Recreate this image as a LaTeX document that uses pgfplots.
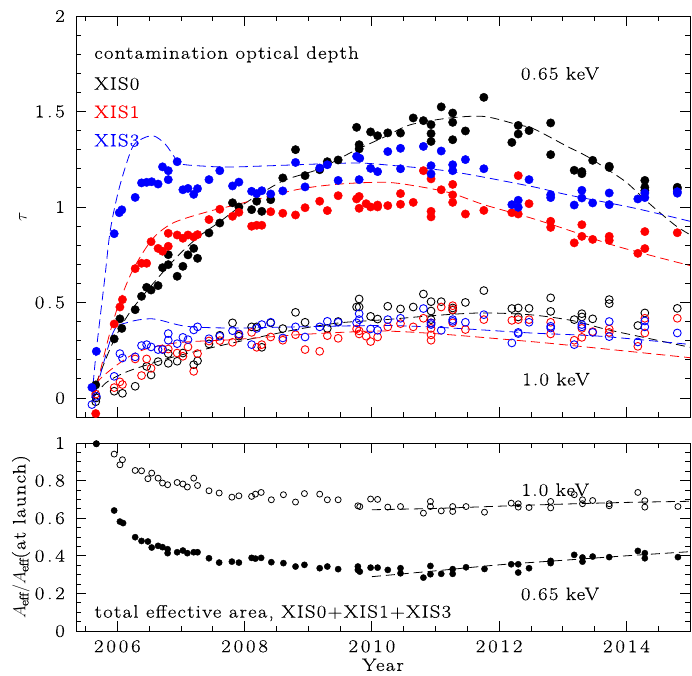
\documentclass[border=0pt]{standalone}
\usepackage{fontspec}
\setmainfont{Latin Modern Roman}[LetterSpace=7, FakeStretch=1.15, FakeBold=0.4]
\usepackage{pgfplots}
\pgfplotsset{compat=1.18}
\definecolor{myred}{RGB}{255,0,0}
\definecolor{myblue}{RGB}{0,0,255}
\newcommand{\bigf}{\fontsize{18}{21}\selectfont}
\newcommand{\tickf}{\fontsize{18}{21}\selectfont\addfontfeatures{LetterSpace=16}}
\pgfplotsset{
  myax/.style={scale only axis, width=614pt, xmin=2005.35, xmax=2015,
    xtick={2006,2008,2010,2012,2014}, minor xtick={2005.5,2006,...,2015},
    tick align=inside, major tick length=10pt, minor tick length=5pt,
    axis line style={line width=0.9pt}, every tick/.style={line width=0.8pt, black},
    /pgf/number format/assume math mode=true, /pgf/number format/1000 sep={},
    tick label style={font=\tickf}, label style={font=\bigf},
    xticklabel style={yshift=-3pt}, yticklabel style={xshift=-5pt},
    every axis y label/.style={at={(axis description cs:-0.0863,0.5)}, rotate=90, anchor=center},
  },
  fil/.style={only marks, mark=*, mark size=4.2pt},
  opn/.style={only marks, mark=o, mark size=3.9pt, mark options={line width=0.9pt}},
  mdl/.style={no marks, smooth, tension=0.5, line width=0.8pt, dash pattern=on 9pt off 5pt},
}
\pgfplotstableread{
x y
2005.60 0.055
2005.67 0.244
2005.95 0.86
2006.03 0.97
2006.07 0.985
2006.28 1.05
2006.38 1.126
2006.46 1.129
2006.54 1.132
2006.64 1.12
2006.71 1.21
2006.80 1.19
2006.80 1.143
2006.94 1.237
2007.03 1.09
2007.11 1.097
2007.20 1.066
2007.26 1.096
2007.44 1.143
2007.61 1.19
2007.81 1.11
2007.91 1.13
2008.11 1.082
2008.19 1.07
2008.27 1.085
2008.41 1.068
2008.60 1.084
2008.80 1.233
2008.95 1.105
2009.18 1.204
2009.30 1.221
2009.47 1.139
2009.76 1.265
2009.81 1.255
2009.80 1.143
2009.98 1.202
2010.09 1.185
2010.25 1.29
2010.45 1.307
2010.45 1.2
2010.81 1.317
2010.93 1.216
2010.93 1.173
2011.09 1.293
2011.27 1.221
2011.27 1.19
2011.47 1.248
2011.76 1.2
2012.20 1.012
2012.30 1.035
2012.30 0.998
2012.47 1.143
2012.81 1.064
2012.81 1.049
2013.18 1.01
2013.30 1.087
2013.30 1.047
2013.47 1.021
2013.73 1.073
2013.73 1.012
2014.18 1.042
2014.29 1.073
2014.29 1.049
2014.80 1.08
2014.80 1.072
}\bluefil
\pgfplotstableread{
x y
2005.66 0.068
2005.95 0.309
2006.04 0.414
2006.07 0.364
2006.28 0.462
2006.38 0.532
2006.46 0.579
2006.53 0.565
2006.64 0.588
2006.71 0.682
2006.80 0.698
2006.80 0.75
2006.94 0.637
2007.03 0.689
2007.11 0.749
2007.20 0.783
2007.26 0.731
2007.44 0.864
2007.61 0.916
2007.81 1.022
2007.91 1.0
2008.11 0.986
2008.19 1.03
2008.27 0.977
2008.41 1.038
2008.60 1.152
2008.80 1.3
2008.95 1.164
2009.18 1.195
2009.30 1.237
2009.47 1.246
2009.76 1.417
2009.80 1.326
2009.80 1.304
2009.98 1.393
2010.09 1.373
2010.25 1.388
2010.45 1.387
2010.65 1.466
2010.81 1.452
2010.93 1.431
2010.93 1.384
2010.93 1.343
2011.09 1.524
2011.27 1.492
2011.27 1.443
2011.27 1.352
2011.47 1.398
2011.76 1.574
2012.20 1.338
2012.30 1.427
2012.30 1.382
2012.47 1.4
2012.81 1.44
2012.81 1.274
2013.18 1.192
2013.30 1.185
2013.30 1.174
2013.47 1.244
2013.73 1.213
2013.73 1.207
2014.29 1.139
2014.29 1.103
2014.29 1.085
2014.80 1.103
2014.80 1.095
}\blackfil
\pgfplotstableread{
x y
2005.66 -0.082
2005.95 0.387
2006.04 0.476
2006.08 0.515
2006.28 0.677
2006.38 0.705
2006.46 0.705
2006.53 0.818
2006.64 0.783
2006.71 0.768
2006.80 0.794
2006.80 0.862
2006.94 0.853
2007.03 0.836
2007.11 0.853
2007.20 0.843
2007.26 0.855
2007.44 0.934
2007.61 0.988
2007.81 0.951
2007.91 0.972
2008.11 0.899
2008.19 0.904
2008.27 0.904
2008.41 0.975
2008.60 0.967
2008.80 0.958
2008.95 0.996
2009.18 1.03
2009.30 0.981
2009.47 1.059
2009.76 1.042
2009.80 1.055
2009.80 0.993
2009.91 1.017
2009.98 1.0
2010.09 1.0
2010.09 1.01
2010.25 1.007
2010.45 1.07
2010.45 1.014
2010.65 1.024
2010.81 1.19
2010.93 1.147
2010.93 0.977
2010.93 0.948
2011.09 1.09
2011.27 1.118
2011.27 1.063
2011.27 1.024
2011.47 0.963
2011.76 0.982
2012.20 0.97
2012.30 0.963
2012.30 1.164
2012.47 1.017
2012.81 0.925
2012.81 0.893
2013.18 0.812
2013.30 0.907
2013.30 0.846
2013.47 0.83
2013.73 0.846
2013.73 0.825
2014.18 0.757
2014.29 0.871
2014.29 0.782
2014.80 0.865
}\redfil
\pgfplotstableread{
x y
2005.66 -0.02
2005.67 0.0
2005.95 0.035
2006.08 0.024
2006.28 0.061
2006.46 0.165
2006.53 0.12
2006.64 0.19
2006.80 0.181
2006.80 0.232
2006.94 0.192
2007.03 0.235
2007.20 0.174
2007.26 0.194
2007.44 0.283
2007.61 0.328
2007.81 0.393
2007.91 0.323
2008.11 0.372
2008.19 0.372
2008.27 0.265
2008.41 0.393
2008.60 0.363
2008.80 0.448
2008.95 0.396
2009.30 0.364
2009.47 0.4
2009.80 0.518
2009.76 0.476
2009.80 0.476
2009.98 0.427
2010.09 0.413
2010.25 0.48
2010.45 0.466
2010.65 0.476
2010.81 0.544
2010.93 0.504
2010.93 0.455
2010.93 0.41
2011.09 0.504
2011.27 0.471
2011.27 0.459
2011.47 0.5
2011.76 0.562
2012.20 0.468
2012.30 0.471
2012.30 0.424
2012.47 0.469
2012.81 0.524
2012.81 0.453
2013.18 0.41
2013.30 0.441
2013.30 0.424
2013.47 0.414
2013.73 0.515
2013.73 0.494
2014.18 0.379
2014.29 0.445
2014.80 0.469
}\blackopn
\pgfplotstableread{
x y
2005.66 0.02
2005.95 0.054
2006.04 0.084
2006.08 0.07
2006.28 0.204
2006.38 0.117
2006.46 0.204
2006.53 0.155
2006.71 0.256
2006.80 0.256
2006.94 0.235
2007.03 0.218
2007.11 0.267
2007.20 0.139
2007.26 0.232
2007.44 0.298
2007.61 0.3
2007.81 0.291
2007.91 0.331
2008.11 0.343
2008.19 0.265
2008.27 0.279
2008.41 0.319
2008.60 0.302
2008.80 0.331
2008.95 0.253
2009.18 0.244
2009.30 0.326
2009.47 0.312
2009.76 0.361
2009.80 0.335
2009.80 0.351
2009.91 0.323
2009.98 0.295
2010.09 0.319
2010.25 0.372
2010.45 0.389
2010.65 0.372
2010.81 0.417
2010.93 0.393
2010.93 0.364
2010.93 0.33
2010.93 0.302
2011.09 0.476
2011.27 0.483
2011.27 0.462
2011.27 0.393
2011.47 0.358
2011.76 0.41
2012.20 0.406
2012.30 0.41
2012.47 0.41
2012.81 0.396
2012.81 0.335
2013.18 0.302
2013.30 0.364
2013.30 0.317
2013.47 0.347
2013.73 0.361
2013.73 0.343
2014.18 0.27
2014.29 0.417
2014.29 0.34
2014.80 0.417
}\redopn
\pgfplotstableread{
x y
2005.60 -0.035
2005.67 0.008
2005.95 0.113
2006.04 0.232
2006.08 0.209
2006.28 0.215
2006.38 0.274
2006.46 0.279
2006.53 0.267
2006.64 0.253
2006.71 0.253
2006.80 0.337
2006.80 0.302
2006.94 0.284
2007.03 0.317
2007.11 0.305
2007.20 0.356
2007.26 0.372
2007.44 0.31
2007.61 0.323
2007.81 0.352
2007.91 0.335
2008.11 0.279
2008.19 0.364
2008.27 0.384
2008.41 0.396
2008.60 0.314
2008.80 0.372
2008.95 0.319
2009.18 0.372
2009.30 0.401
2009.47 0.396
2009.76 0.393
2009.80 0.441
2009.80 0.41
2009.98 0.361
2010.09 0.354
2010.25 0.41
2010.45 0.417
2010.81 0.468
2010.93 0.393
2010.93 0.384
2011.09 0.354
2011.27 0.41
2011.27 0.401
2011.47 0.396
2011.76 0.436
2012.20 0.288
2012.30 0.343
2012.30 0.337
2012.47 0.396
2012.81 0.375
2012.81 0.366
2013.18 0.279
2013.30 0.384
2013.30 0.372
2013.47 0.343
2013.73 0.4
2013.73 0.321
2014.18 0.293
2014.29 0.403
2014.29 0.372
2014.80 0.34
}\blueopn
\pgfplotstableread{
x y
2005.67 0.996
2005.95 0.941
2006.04 0.884
2006.08 0.911
2006.28 0.854
2006.38 0.852
2006.48 0.81
2006.54 0.84
2006.64 0.813
2006.71 0.787
2006.79 0.778
2006.94 0.79
2007.03 0.782
2007.10 0.766
2007.20 0.813
2007.26 0.774
2007.44 0.746
2007.60 0.734
2007.80 0.712
2007.91 0.719
2008.11 0.716
2008.17 0.728
2008.26 0.737
2008.42 0.698
2008.61 0.725
2008.80 0.686
2008.94 0.731
2009.18 0.728
2009.30 0.698
2009.47 0.698
2009.78 0.666
2009.81 0.662
2009.98 0.702
2010.09 0.70
2010.25 0.659
2010.45 0.662
2010.81 0.627
2010.92 0.689
2010.92 0.662
2011.09 0.639
2011.27 0.662
2011.27 0.636
2011.48 0.662
2011.77 0.632
2012.19 0.68
2012.30 0.677
2012.30 0.659
2012.47 0.657
2012.81 0.689
2012.81 0.655
2013.18 0.725
2013.31 0.698
2013.31 0.677
2013.47 0.694
2013.73 0.677
2013.73 0.666
2014.18 0.737
2014.29 0.693
2014.29 0.659
2014.81 0.662
}\areaopn
\pgfplotstableread{
x y
2005.67 0.996
2005.95 0.641
2006.04 0.582
2006.09 0.574
2006.28 0.499
2006.38 0.479
2006.48 0.476
2006.54 0.444
2006.64 0.453
2006.71 0.446
2006.79 0.435
2006.79 0.414
2006.94 0.419
2007.03 0.428
2007.10 0.414
2007.20 0.419
2007.26 0.419
2007.44 0.387
2007.60 0.364
2007.80 0.369
2007.91 0.364
2008.11 0.389
2008.17 0.385
2008.26 0.389
2008.42 0.366
2008.61 0.361
2008.80 0.343
2008.94 0.352
2009.18 0.334
2009.30 0.343
2009.47 0.329
2009.78 0.343
2009.81 0.316
2009.78 0.325
2009.98 0.337
2010.09 0.337
2010.25 0.325
2010.45 0.334
2010.45 0.307
2010.81 0.284
2010.92 0.346
2010.92 0.302
2011.09 0.304
2011.27 0.329
2011.27 0.304
2011.48 0.339
2011.77 0.33
2012.19 0.355
2012.30 0.355
2012.30 0.311
2012.47 0.334
2012.81 0.373
2012.81 0.361
2013.18 0.405
2013.31 0.391
2013.31 0.369
2013.47 0.396
2013.73 0.393
2014.18 0.426
2014.29 0.414
2014.29 0.387
2014.81 0.393
}\areafil
\begin{document}
\bigf
\begin{tikzpicture}[font=\bigf]
\useasboundingbox (0,0) rectangle (692pt,675pt);
\begin{axis}[myax, at={(76pt,258pt)}, anchor=south west, height=401pt,
  ymin=-0.1, ymax=2, ytick={0,0.5,1,1.5,2}, minor ytick={-0.1,0,...,2},
  xticklabels={}, ylabel={$\tau$}]
% 1.0 keV
\addplot[opn, black] table {\blackopn};
\addplot[opn, myred] table {\redopn};
\addplot[opn, myblue] table {\blueopn};
% 0.65 keV
\addplot[fil, black] table {\blackfil};
\addplot[fil, myred] table {\redfil};
\addplot[fil, myblue] table {\bluefil};
% models 0.65
\addplot[mdl, black] coordinates {(2005.6,0.0) (2005.66,0.07) (2005.93,0.29) (2006.2,0.45) (2006.66,0.637) (2007.0,0.76) (2007.3,0.85) (2007.6,0.92) (2007.92,1.0) (2008.3,1.08) (2008.65,1.143) (2009.18,1.2) (2009.7,1.29) (2010.22,1.37) (2010.6,1.43) (2011.2,1.465) (2011.76,1.474) (2012.29,1.431) (2012.55,1.408) (2013.07,1.317) (2013.38,1.265) (2013.75,1.186) (2014.01,1.126) (2014.32,1.03) (2014.53,0.969) (2014.79,0.898) (2015,0.855)};
\addplot[mdl, myred] coordinates {(2005.63,0.0) (2005.85,0.3) (2006.0,0.47) (2006.2,0.64) (2006.4,0.76) (2006.6,0.85) (2006.9,0.92) (2007.44,0.977) (2007.81,1.007) (2008.81,1.09) (2009.5,1.12) (2010.22,1.129) (2010.72,1.108) (2011.24,1.073) (2011.76,1.012) (2012.5,0.942) (2013.07,0.881) (2013.85,0.794) (2015,0.693)};
\addplot[mdl, myblue] coordinates {(2005.6,0.0) (2005.67,0.25) (2005.8,0.62) (2005.89,0.88) (2006.03,1.1) (2006.22,1.3) (2006.35,1.35) (2006.56,1.373) (2006.75,1.33) (2006.9,1.26) (2007.0,1.225) (2007.4,1.213) (2007.77,1.209) (2008.34,1.215) (2009.33,1.227) (2009.8,1.23) (2010.2,1.221) (2011.24,1.186) (2012.5,1.108) (2013.07,1.064) (2014.11,0.995) (2015,0.925)};
% models 1.0
\addplot[mdl, black] coordinates {(2005.62,0.0) (2005.82,0.079) (2006.1,0.13) (2006.4,0.166) (2006.92,0.218) (2007.81,0.288) (2008.81,0.358) (2009.49,0.393) (2010.22,0.41) (2011.0,0.432) (2011.74,0.445) (2012.5,0.435) (2013.15,0.405) (2013.67,0.36) (2014.3,0.315) (2015,0.265)};
\addplot[mdl, myred] coordinates {(2005.63,0.0) (2005.72,0.096) (2006.29,0.236) (2006.92,0.288) (2007.81,0.305) (2008.81,0.33) (2009.5,0.343) (2010.2,0.35) (2011.06,0.335) (2012.5,0.295) (2013.15,0.274) (2014.93,0.213) (2015,0.21)};
\addplot[mdl, myblue] coordinates {(2005.62,-0.02) (2005.64,0.008) (2005.93,0.34) (2006.14,0.393) (2006.55,0.414) (2007.08,0.375) (2007.81,0.366) (2008.81,0.372) (2010.22,0.379) (2011.24,0.366) (2012.5,0.34) (2013.59,0.323) (2015,0.28)};
\node[anchor=base west, inner sep=0pt] at (axis cs:2005.635,1.776) {contamination optical depth};
\node[anchor=base west, inner sep=0pt] at (axis cs:2005.635,1.614) {XIS0};
\node[anchor=base west, inner sep=0pt, text=myred] at (axis cs:2005.635,1.466) {XIS1};
\node[anchor=base west, inner sep=0pt, text=myblue] at (axis cs:2005.635,1.317) {XIS3};
\node[anchor=base west, inner sep=0pt] at (axis cs:2012.34,1.667) {0.65 keV};
\node[anchor=base west, inner sep=0pt] at (axis cs:2012.36,0.066) {1.0 keV};
\end{axis}
\begin{axis}[myax, at={(76pt,44pt)}, anchor=south west, height=188pt,
  ymin=0, ymax=1, ytick={0,0.2,0.4,0.6,0.8,1}, minor ytick={0,0.05,...,1},
  ylabel={$A_{\mathrm{eff}}/A_{\mathrm{eff}}$(at launch)},
  every axis y label/.style={at={(axis description cs:-0.0896,0.5)}, rotate=90, anchor=center},
  xlabel={Year},
  every axis x label/.style={at={(axis description cs:0.5,-0.18)}, anchor=center}]
\addplot[only marks, mark=o, mark size=3pt, mark options={line width=0.8pt}, black] table {\areaopn};
\addplot[only marks, mark=*, mark size=3.1pt, black] table {\areafil};
\addplot[mdl, black] coordinates {(2010,0.645) (2011,0.652) (2012,0.664) (2013,0.675) (2014,0.684) (2015,0.69)};
\addplot[mdl, black] coordinates {(2010,0.289) (2011,0.32) (2012,0.352) (2013,0.376) (2014,0.40) (2015,0.422)};
\node[anchor=base west, inner sep=0pt] at (axis cs:2012.35,0.719) {1.0 keV};
\node[anchor=base west, inner sep=0pt] at (axis cs:2012.34,0.165) {0.65 keV};
\node[anchor=base west, inner sep=0pt] at (axis cs:2005.64,0.071) {total effective area, XIS0+XIS1+XIS3};
\end{axis}
\end{tikzpicture}
\end{document}
